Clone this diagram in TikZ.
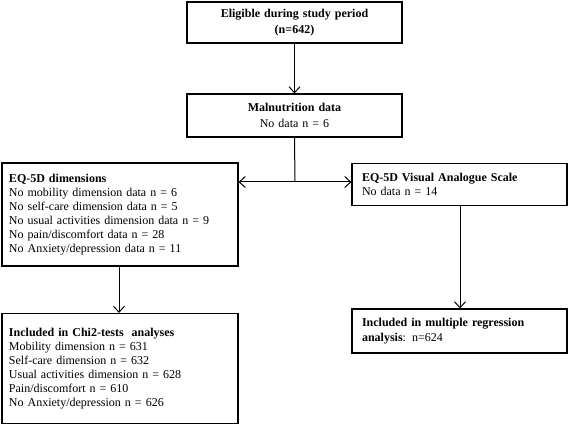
\documentclass[tikz,border=0pt]{standalone}
\usepackage{fontspec}
\setmainfont{Liberation Serif}
\usetikzlibrary{arrows.meta}
\tikzset{
  box/.style={draw, line width=1.1pt, inner xsep=7pt, inner ysep=0pt},
  lbox/.style={box, align=left, font=\fontsize{12}{14}\selectfont},
  cbox/.style={box, align=center, font=\fontsize{12}{16.5}\selectfont},
  conn/.style={line width=1pt, -{Straight Barb[length=6pt,width=11pt,line width=1pt]}},
  plain/.style={line width=1pt}
}
\begin{document}
\begin{tikzpicture}[x=1pt,y=-1pt]
\useasboundingbox (0,0) rectangle (568,425);
\node[cbox, minimum width=215pt, minimum height=41pt, text width=201pt] (b1) at (294.5,22.5)
  {\textbf{Eligible during study period}\\\textbf{(n=642)}};
\node[cbox, minimum width=215pt, minimum height=43pt, text width=201pt] (b2) at (294.5,115.5)
  {\textbf{Malnutrition data}\\No data n = 6};
\node[lbox, minimum width=236pt, minimum height=103pt, text width=222pt] (b3) at (120,214.5)
  {\textbf{EQ-5D dimensions}\\
   No mobility dimension data n = 6\\
   No self-care dimension data n = 5\\
   No usual activities dimension data n = 9\\
   No pain/discomfort data n = 28\\
   No Anxiety/depression data n = 11};
\node[lbox, inner xsep=10pt, minimum width=215pt, minimum height=42pt, text width=195pt] (b4) at (459.5,184.5)
  {\textbf{EQ-5D Visual Analogue Scale}\\No data n = 14};
\node[lbox, font=\fontsize{12}{15.5}\selectfont, inner xsep=10pt, minimum width=215pt, minimum height=44pt, text width=195pt] (b5) at (459.5,331)
  {\textbf{Included in multiple regression}\\\textbf{analysis}: n=624};
\node[lbox, minimum width=236pt, minimum height=110pt, text width=222pt] (b6) at (120,368.5)
  {\textbf{Included in Chi2-tests\ \ analyses}\\
   Mobility dimension n = 631\\
   Self-care dimension n = 632\\
   Usual activities dimension n = 628\\
   Pain/discomfort n = 610\\
   No Anxiety/depression n = 626};
\coordinate (split) at (295,182);
\draw[conn] (b1.south) -- (b2.north);
\draw[plain] (b2.south) -- (split);
\draw[conn] (split) -- (b3.east |- split);
\draw[conn] (split) -- (b4.west |- split);
\draw[conn] (b3.south -| 119,0) -- (b6.north -| 119,0);
\draw[conn] (b4.south -| 460,0) -- (b5.north -| 460,0);
\end{tikzpicture}
\end{document}
